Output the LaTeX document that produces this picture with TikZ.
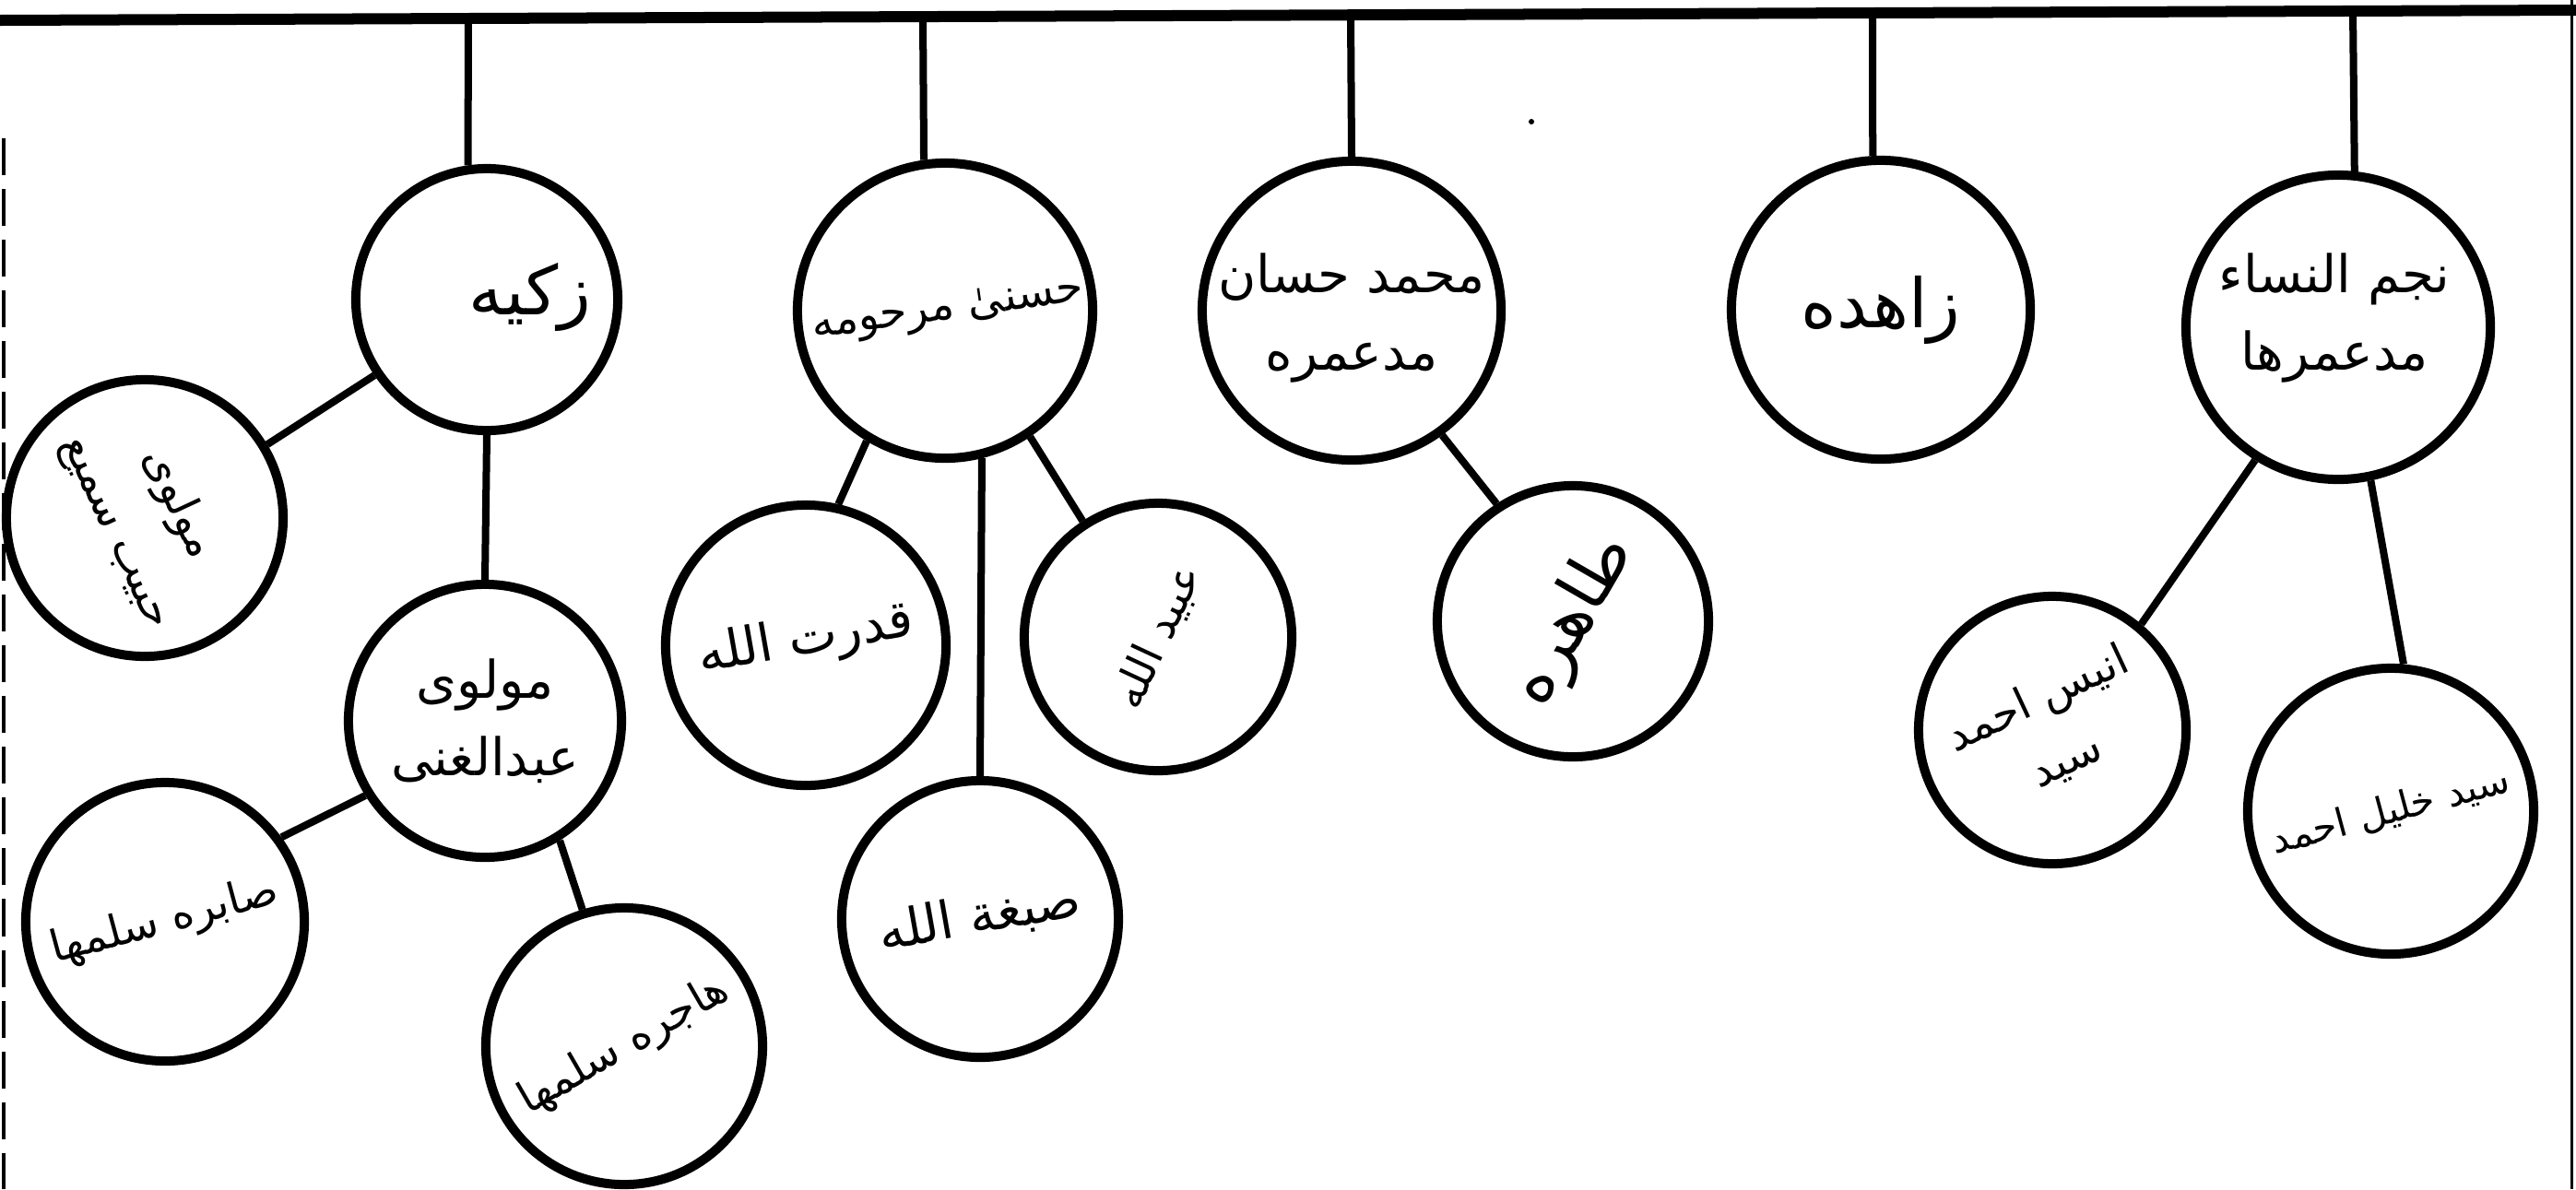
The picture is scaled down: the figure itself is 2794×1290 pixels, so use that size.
\documentclass[tikz,border=0pt]{standalone}
\usepackage{fontspec}
\newfontfamily\urdu[Script=Arabic]{DejaVu Sans}
\TeXXeTstate=1
\newcommand{\ur}[1]{\beginR #1\endR}
\begin{document}
\begin{tikzpicture}[x=0.01cm,y=-0.01cm,
  person/.style={draw, circle, line width=0.1cm, inner sep=0pt},
  ubig/.style={font=\urdu\fontsize{21}{28}\selectfont, align=center, inner sep=0pt},
  umid/.style={font=\urdu\fontsize{16}{24}\selectfont, align=center, inner sep=0pt},
  usmall/.style={font=\urdu\fontsize{13.5}{21}\selectfont, align=center, inner sep=0pt},
  utiny/.style={font=\urdu\fontsize{12}{19}\selectfont, align=center, inner sep=0pt},
  link/.style={line width=0.08cm},
]
\useasboundingbox[fill=white] (0,0) rectangle (2794,1290);
% top bar and page edges
\coordinate (L) at (0,22);
\coordinate (R) at (2794,11);
\draw[line width=0.12cm] (L) -- (R);
\coordinate (EdgeTop) at (2789,0);
\coordinate (EdgeBot) at (2789,1290);
\draw[line width=0.03cm] (EdgeTop) -- (EdgeBot);
\coordinate (LeftTop) at (4,150);
\coordinate (LeftBot) at (4,1290);
\draw[line width=0.03cm, dash pattern=on 0.4cm off 0.15cm] (LeftTop) -- (LeftBot);
\coordinate (speck) at (1661,132);
\fill (speck) circle (0.03cm);

% drop points on top bar
\coordinate (t1) at (508,20);
\coordinate (t2) at (1001,18);
\coordinate (t3) at (1465,16);
\coordinate (t4) at (2031,14);
\coordinate (t5) at (2552,12);

% circles
\node[person, minimum size=2.84cm] (zakia)  at (528,325)  {};
\node[person, minimum size=3.2cm]  (husna)  at (1025,337) {};
\node[person, minimum size=3.24cm] (hassan) at (1466,337) {};
\node[person, minimum size=3.24cm] (zahida) at (2040,336) {};
\node[person, minimum size=3.3cm]  (najm)   at (2536,355) {};
\node[person, minimum size=3.0cm]  (samee)  at (157,562)  {};
\node[person, minimum size=2.96cm] (ghani)  at (526,782)  {};
\node[person, minimum size=3.02cm] (sabira) at (179,1000) {};
\node[person, minimum size=3.0cm]  (hajira) at (677,1135) {};
\node[person, minimum size=3.04cm] (qudrat) at (874,700)  {};
\node[person, minimum size=3.0cm]  (sibghat) at (1063,997) {};
\node[person, minimum size=2.9cm]  (ubaid)  at (1256,691) {};
\node[person, minimum size=2.94cm] (tahira) at (1706,674) {};
\node[person, minimum size=2.9cm]  (anees)  at (2226,792) {};
\node[person, minimum size=3.1cm]  (khalil) at (2593,880) {};

% names
\node[ubig] (tzakia) at (575,322) {\ur{زکیه}};
\node[usmall, rotate=8] (thusna) at (1028,338) {\ur{حسنیٰ مرحومه}};
\node[umid] (thassan) at (1466,345) {\ur{محمد حسان}\\\ur{مدعمره}};
\node[ubig] (tzahida) at (2040,336) {\ur{زاهده}};
\node[umid] (tnajm) at (2532,345) {\ur{نجم النساء}\\\ur{مدعمرها}};
\node[usmall, rotate=-65] (tsamee) at (160,562) {\ur{مولوی}\\\ur{حبیب سمیع}};
\node[umid] (tghani) at (526,782) {\ur{مولوی}\\\ur{عبدالغنی}};
\node[usmall, rotate=15] (tsabira) at (179,1000) {\ur{صابره سلمها}};
\node[usmall, rotate=30] (thajira) at (677,1135) {\ur{هاجره سلمها}};
\node[umid, rotate=10] (tqudrat) at (874,695) {\ur{قدرت الله}};
\node[umid, rotate=10] (tsibghat) at (1063,995) {\ur{صبغة الله}};
\node[usmall, rotate=65] (tubaid) at (1256,691) {\ur{عبید الله}};
\node[ubig, rotate=60] (ttahira) at (1706,674) {\ur{طاهره}};
\node[usmall, rotate=25] (tanees) at (2226,792) {\ur{انیس احمد}\\\ur{سید}};
\node[utiny, rotate=15] (tkhalil) at (2593,880) {\ur{سید خلیل احمد}};

% drops from top bar
\draw[link] (t1) -- (zakia.98);
\draw[link] (t2) -- (husna.98);
\draw[link] (t3) -- (hassan.90);
\draw[link] (t4) -- (zahida.93);
\draw[link] (t5) -- (najm.84);

% children
\draw[link] (zakia.-146) -- (samee.31);
\draw[link] (zakia.-90) -- (ghani.90);
\draw[link] (ghani.-148) -- (sabira.36);
\draw[link] (ghani.-58) -- (hajira.107);
\draw[link] (husna.-121) -- (qudrat.77);
\draw[link] (husna.-76) -- (sibghat.north);
\draw[link] (husna.-56) -- (ubaid.123);
\draw[link] (hassan.-54) -- (tahira.123);
\draw[link] (najm.-122) -- (anees.50);
\draw[link] (najm.-78) -- (khalil.85);
\end{tikzpicture}
\end{document}
